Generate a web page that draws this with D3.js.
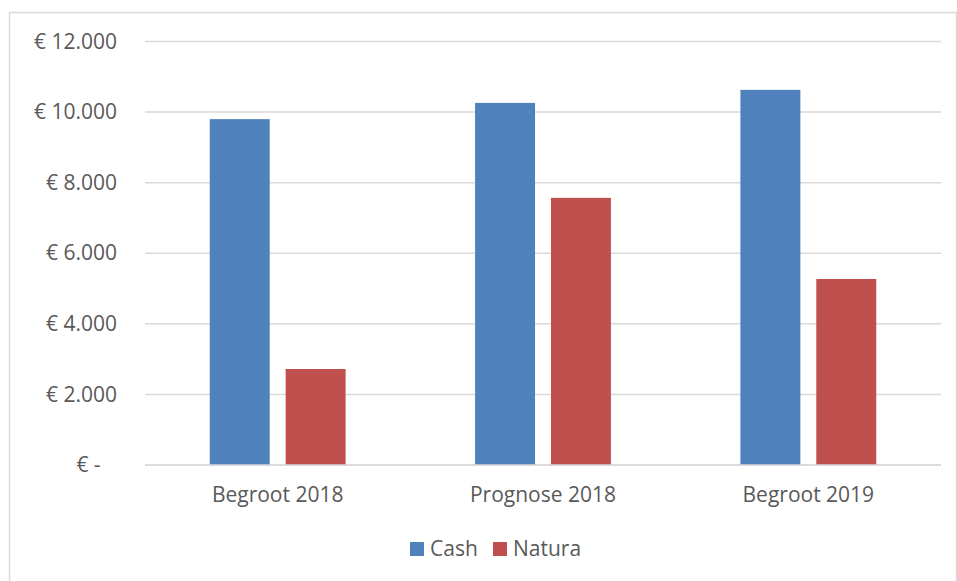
<!DOCTYPE html>
<html>
<head>
<meta charset="utf-8">
<script src="https://cdn.jsdelivr.net/npm/d3@7"></script>
<style>
	body { margin: 0; background: #fff; }
	text { font-family: "Open Sans", sans-serif; fill: #595959; }
</style>
</head>
<body>
<div id="chart"></div>
<script>
// chart data
var categories = ["Begroot 2018", "Prognose 2018", "Begroot 2019"];
var seriesNames = ["Cash", "Natura"];
var cash = [9800, 10260, 10630];
var natura = [2720, 7570, 5270];
var yTicks = [0, 2000, 4000, 6000, 8000, 10000, 12000];

var colors = { "Cash": "#4f81bd", "Natura": "#c0504d" };
var width = 957;
var height = 581;
var margin = { top: 41.5, right: 16, bottom: 116, left: 145 };
var fontSize = 21;

var svg = d3.select("#chart")
			.append("svg")
			.attr("width", width)
			.attr("height", height);

// outer border like the excel chart area
svg.append("rect")
	.attr("x", 9.5)
	.attr("y", 12.5)
	.attr("width", width - 10)
	.attr("height", height)
	.attr("fill", "#fff")
	.attr("stroke", "#d9d9d9")
	.attr("stroke-width", 1.5);

var x = d3.scaleBand()
		  .domain(categories)
		  .range([margin.left, width - margin.right])
		  .padding(0);

var y = d3.scaleLinear()
		  .domain([0, 12000])
		  .range([height - margin.bottom, margin.top]);

var euro = function(d) {
	if (d === 0) {
		return "€ -   ";
	}
	return "€ " + d3.format(",")(d).replace(/,/g, ".");
};

// gridlines
svg.append("g")
	.selectAll("line")
	.data(yTicks)
	.enter()
		.append("line")
		.attr("x1", margin.left)
		.attr("x2", width - margin.right)
		.attr("y1", function(d) { return y(d); })
		.attr("y2", function(d) { return y(d); })
		.attr("stroke", "#d9d9d9")
		.attr("stroke-width", 1.5);

// y axis labels
var yAxis = svg.append("g")
			   .attr("transform", "translate(" + (margin.left - 28) + ",0)")
			   .call(d3.axisLeft(y).tickValues(yTicks).tickFormat(euro).tickSize(0).tickPadding(0));
yAxis.select(".domain").remove();
yAxis.selectAll("text")
	 .style("font-size", fontSize + "px")
	 .style("font-family", "Open Sans")
	 .style("white-space", "pre")
	 .attr("fill", "#595959");

// bars
var barW = x.bandwidth() * 0.226;
var gap = x.bandwidth() * 0.06;
var series = [cash, natura];
series.forEach(function(vals, si) {
	svg.append("g")
		.selectAll("rect")
		.data(vals)
		.enter()
			.append("rect")
			.attr("x", function(d, i) {
				var c = x(categories[i]) + x.bandwidth() / 2;
				return si === 0 ? c - gap / 2 - barW : c + gap / 2;
			})
			.attr("y", function(d) { return y(d); })
			.attr("width", barW)
			.attr("height", function(d) { return y(0) - y(d); })
			.attr("fill", colors[seriesNames[si]]);
});

// category axis
var xAxis = svg.append("g")
			   .attr("transform", "translate(0," + y(0) + ")")
			   .call(d3.axisBottom(x).tickSize(0).tickPadding(22));
xAxis.select(".domain").remove();
xAxis.selectAll("text")
	 .style("font-size", fontSize + "px")
	 .style("font-family", "Open Sans")
	 .attr("fill", "#595959");

// baseline redrawn over the bars' bottoms
svg.append("line")
	.attr("x1", margin.left)
	.attr("x2", width - margin.right)
	.attr("y1", y(0))
	.attr("y2", y(0))
	.attr("stroke", "#d9d9d9")
	.attr("stroke-width", 1.5);

// legend
var legendX = [410, 493];
var legend = svg.selectAll(".legend")
				.data(seriesNames)
				.enter()
					.append("g")
					.attr("transform", function(d, i) { return "translate(" + legendX[i] + ",549)"; });
legend.append("rect")
	.attr("x", 0)
	.attr("y", -7)
	.attr("width", 14)
	.attr("height", 14)
	.attr("fill", function(d) { return colors[d]; });
legend.append("text")
	.attr("x", 20)
	.attr("dy", "0.35em")
	.style("font-size", fontSize + "px")
	.text(function(d) { return d; });
</script>
</body>
</html>
